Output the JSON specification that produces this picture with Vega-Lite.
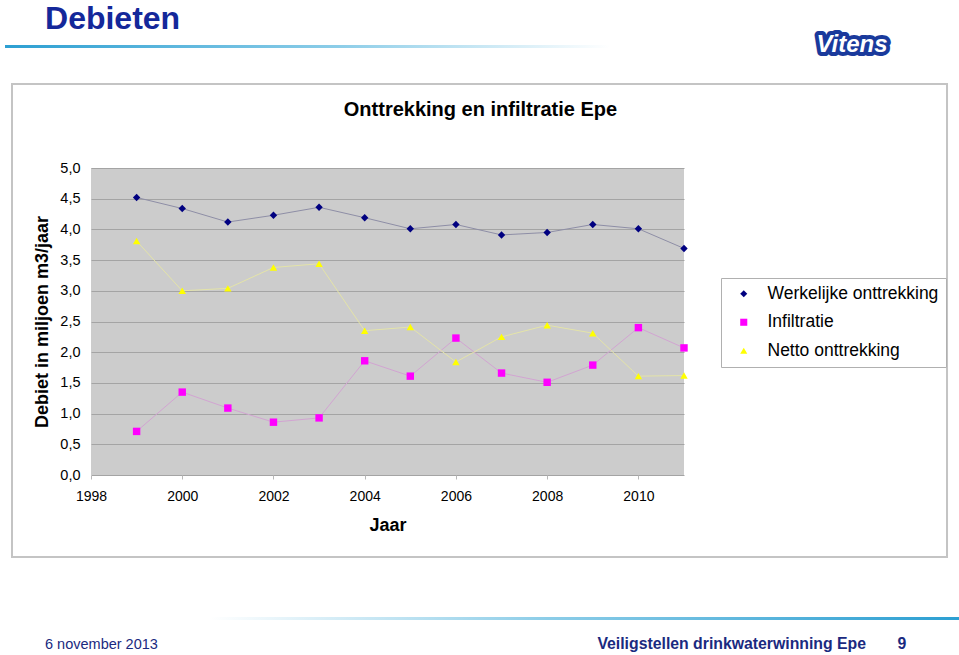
{
  "$schema": "https://vega.github.io/schema/vega-lite/v6.json",
  "width": 593,
  "height": 307,
  "autosize": {"type": "none"},
  "padding": {"left": 91, "top": 168, "right": 275, "bottom": 180},
  "background": "white",
  "title": {
    "text": "Onttrekking en infiltratie Epe",
    "fontSize": 20,
    "fontWeight": "bold",
    "color": "black",
    "anchor": "middle",
    "frame": "group",
    "dx": 93,
    "offset": -117
  },
  "config": {
    "font": "Liberation Sans",
    "view": {"fill": "#cccccc", "stroke": null}
  },
  "datasets": {
    "debiet": [
      {"jaar": 1999, "serie": "Werkelijke onttrekking", "waarde": 4.52},
      {"jaar": 2000, "serie": "Werkelijke onttrekking", "waarde": 4.34},
      {"jaar": 2001, "serie": "Werkelijke onttrekking", "waarde": 4.12},
      {"jaar": 2002, "serie": "Werkelijke onttrekking", "waarde": 4.23},
      {"jaar": 2003, "serie": "Werkelijke onttrekking", "waarde": 4.36},
      {"jaar": 2004, "serie": "Werkelijke onttrekking", "waarde": 4.19},
      {"jaar": 2005, "serie": "Werkelijke onttrekking", "waarde": 4.01},
      {"jaar": 2006, "serie": "Werkelijke onttrekking", "waarde": 4.08},
      {"jaar": 2007, "serie": "Werkelijke onttrekking", "waarde": 3.91},
      {"jaar": 2008, "serie": "Werkelijke onttrekking", "waarde": 3.95},
      {"jaar": 2009, "serie": "Werkelijke onttrekking", "waarde": 4.08},
      {"jaar": 2010, "serie": "Werkelijke onttrekking", "waarde": 4.01},
      {"jaar": 2011, "serie": "Werkelijke onttrekking", "waarde": 3.69},
      {"jaar": 1999, "serie": "Infiltratie", "waarde": 0.71},
      {"jaar": 2000, "serie": "Infiltratie", "waarde": 1.35},
      {"jaar": 2001, "serie": "Infiltratie", "waarde": 1.09},
      {"jaar": 2002, "serie": "Infiltratie", "waarde": 0.86},
      {"jaar": 2003, "serie": "Infiltratie", "waarde": 0.93},
      {"jaar": 2004, "serie": "Infiltratie", "waarde": 1.86},
      {"jaar": 2005, "serie": "Infiltratie", "waarde": 1.61},
      {"jaar": 2006, "serie": "Infiltratie", "waarde": 2.23},
      {"jaar": 2007, "serie": "Infiltratie", "waarde": 1.66},
      {"jaar": 2008, "serie": "Infiltratie", "waarde": 1.51},
      {"jaar": 2009, "serie": "Infiltratie", "waarde": 1.79},
      {"jaar": 2010, "serie": "Infiltratie", "waarde": 2.40},
      {"jaar": 2011, "serie": "Infiltratie", "waarde": 2.07},
      {"jaar": 1999, "serie": "Netto onttrekking", "waarde": 3.81},
      {"jaar": 2000, "serie": "Netto onttrekking", "waarde": 3.00},
      {"jaar": 2001, "serie": "Netto onttrekking", "waarde": 3.04},
      {"jaar": 2002, "serie": "Netto onttrekking", "waarde": 3.38},
      {"jaar": 2003, "serie": "Netto onttrekking", "waarde": 3.44},
      {"jaar": 2004, "serie": "Netto onttrekking", "waarde": 2.35},
      {"jaar": 2005, "serie": "Netto onttrekking", "waarde": 2.41},
      {"jaar": 2006, "serie": "Netto onttrekking", "waarde": 1.84},
      {"jaar": 2007, "serie": "Netto onttrekking", "waarde": 2.25},
      {"jaar": 2008, "serie": "Netto onttrekking", "waarde": 2.44},
      {"jaar": 2009, "serie": "Netto onttrekking", "waarde": 2.31},
      {"jaar": 2010, "serie": "Netto onttrekking", "waarde": 1.61},
      {"jaar": 2011, "serie": "Netto onttrekking", "waarde": 1.62}
    ]
  },
  "layer": [
    {
      "data": {"name": "debiet"},
      "transform": [{"filter": "datum.serie === 'Werkelijke onttrekking'"}],
      "mark": {"type": "line", "strokeWidth": 1, "color": "#8e8ea6"},
      "encoding": {
        "x": {
          "field": "jaar",
          "type": "quantitative",
          "scale": {"domain": [1998, 2011], "nice": false, "zero": false},
          "axis": {
            "title": "Jaar",
            "titleFontSize": 18,
            "titleFontWeight": "bold",
            "titleColor": "black",
            "titlePadding": 13,
            "values": [1998, 2000, 2002, 2004, 2006, 2008, 2010],
            "tickCount": 20,
            "format": "d",
            "labelFontSize": 14,
            "labelColor": "black",
            "labelPadding": 10,
            "labelFlush": false,
            "labelOverlap": false,
            "ticks": true,
            "tickSize": 4,
            "tickColor": "#b8b8b8",
            "domain": false,
            "grid": false
          }
        },
        "y": {
          "field": "waarde",
          "type": "quantitative",
          "scale": {"domain": [0, 5], "nice": false},
          "axis": {
            "title": "Debiet in miljoen m3/jaar",
            "titleFontSize": 18,
            "titleFontWeight": "bold",
            "titleColor": "black",
            "titlePadding": 8,
            "values": [0, 0.5, 1, 1.5, 2, 2.5, 3, 3.5, 4, 4.5, 5],
            "tickCount": 20,
            "labelExpr": "replace(format(datum.value, '.1f'), '.', ',')",
            "labelFontSize": 14.5,
            "labelColor": "black",
            "labelPadding": 11,
            "labelOverlap": false,
            "labelFlush": false,
            "ticks": false,
            "domain": false,
            "grid": true,
            "gridColor": "#a4a4a4",
            "gridOpacity": 1
          }
        }
      }
    },
    {
      "data": {"name": "debiet"},
      "transform": [{"filter": "datum.serie === 'Infiltratie'"}],
      "mark": {"type": "line", "strokeWidth": 1, "color": "#d2a4d2"},
      "encoding": {
        "x": {"field": "jaar", "type": "quantitative"},
        "y": {"field": "waarde", "type": "quantitative"}
      }
    },
    {
      "data": {"name": "debiet"},
      "transform": [{"filter": "datum.serie === 'Netto onttrekking'"}],
      "mark": {"type": "line", "strokeWidth": 1, "color": "#e4e4a8"},
      "encoding": {
        "x": {"field": "jaar", "type": "quantitative"},
        "y": {"field": "waarde", "type": "quantitative"}
      }
    },
    {
      "data": {"name": "debiet"},
      "mark": {"type": "point", "filled": true, "opacity": 1, "strokeWidth": 0, "size": 55},
      "encoding": {
        "x": {"field": "jaar", "type": "quantitative"},
        "y": {"field": "waarde", "type": "quantitative"},
        "fill": {
          "field": "serie",
          "type": "nominal",
          "scale": {
            "domain": ["Werkelijke onttrekking", "Infiltratie", "Netto onttrekking"],
            "range": ["#000080", "#ff00ff", "#ffff00"]
          },
          "legend": {
            "title": null,
            "orient": "none",
            "legendX": 630,
            "legendY": 110,
            "fillColor": "white",
            "strokeColor": "#b0b0b0",
            "padding": 7,
            "labelFontSize": 17.5,
            "labelColor": "black",
            "labelLimit": 400,
            "labelOffset": 15,
            "symbolOffset": 7,
            "rowPadding": 9.5,
            "symbolSize": 50,
            "symbolStrokeWidth": 0,
            "symbolOpacity": 1
          }
        },
        "shape": {
          "field": "serie",
          "type": "nominal",
          "scale": {
            "domain": ["Werkelijke onttrekking", "Infiltratie", "Netto onttrekking"],
            "range": ["diamond", "square", "triangle-up"]
          },
          "legend": {
            "title": null,
            "orient": "none",
            "legendX": 630,
            "legendY": 110,
            "fillColor": "white",
            "strokeColor": "#b0b0b0",
            "padding": 7,
            "labelFontSize": 17.5,
            "labelColor": "black",
            "labelLimit": 400,
            "labelOffset": 15,
            "symbolOffset": 7,
            "rowPadding": 9.5,
            "symbolSize": 50,
            "symbolStrokeWidth": 0,
            "symbolOpacity": 1
          }
        }
      }
    },
    {
      "data": {"values": [{}]},
      "mark": {"type": "rect", "fill": null, "fillOpacity": 0, "stroke": "#c4c4c4", "strokeWidth": 2},
      "encoding": {
        "x": {"datum": 1996.268, "type": "quantitative"},
        "x2": {"datum": 2016.766},
        "y": {"datum": 6.368, "type": "quantitative"},
        "y2": {"datum": -1.336}
      }
    },
    {
      "data": {"values": [{}]},
      "mark": {
        "type": "rect",
        "color": {
          "gradient": "linear",
          "x1": 0, "y1": 0, "x2": 1, "y2": 0,
          "stops": [
            {"offset": 0, "color": "#2c9fd2"},
            {"offset": 0.55, "color": "#8ccde8"},
            {"offset": 1, "color": "#ffffff"}
          ]
        }
      },
      "encoding": {
        "x": {"datum": 1996.115, "type": "quantitative"},
        "x2": {"datum": 2009.378},
        "y": {"datum": 7.003, "type": "quantitative"},
        "y2": {"datum": 6.954}
      }
    },
    {
      "data": {"values": [{}]},
      "mark": {
        "type": "rect",
        "color": {
          "gradient": "linear",
          "x1": 0, "y1": 0, "x2": 1, "y2": 0,
          "stops": [
            {"offset": 0, "color": "#ffffff"},
            {"offset": 0.45, "color": "#8ccde8"},
            {"offset": 1, "color": "#2c9fd2"}
          ]
        }
      },
      "encoding": {
        "x": {"datum": 2000.609, "type": "quantitative"},
        "x2": {"datum": 2017.029},
        "y": {"datum": -2.313, "type": "quantitative"},
        "y2": {"datum": -2.362}
      }
    },
    {
      "data": {"values": [{}]},
      "mark": {"type": "text", "text": "Debieten", "fontSize": 32, "fontWeight": "bold", "color": "#14289a", "align": "left", "baseline": "alphabetic"},
      "encoding": {
        "x": {"datum": 1996.992, "type": "quantitative"},
        "y": {"datum": 7.264, "type": "quantitative"}
      }
    },
    {
      "data": {"values": [{}]},
      "mark": {"type": "text", "text": "Vitens", "fontSize": 24, "fontWeight": "bold", "fontStyle": "italic", "color": "#1a3a9c", "stroke": "#1a3a9c", "strokeWidth": 8, "strokeJoin": "round", "align": "center", "baseline": "alphabetic"},
      "encoding": {
        "x": {"datum": 2014.683, "type": "quantitative"},
        "y": {"datum": 6.889, "type": "quantitative"}
      }
    },
    {
      "data": {"values": [{}]},
      "mark": {"type": "text", "text": "Vitens", "fontSize": 24, "fontWeight": "bold", "fontStyle": "italic", "color": "white", "align": "center", "baseline": "alphabetic"},
      "encoding": {
        "x": {"datum": 2014.683, "type": "quantitative"},
        "y": {"datum": 6.889, "type": "quantitative"}
      }
    },
    {
      "data": {"values": [{}]},
      "mark": {"type": "text", "text": "6 november 2013", "fontSize": 14.5, "color": "#1a2a80", "align": "left", "baseline": "alphabetic"},
      "encoding": {
        "x": {"datum": 1996.992, "type": "quantitative"},
        "y": {"datum": -2.834, "type": "quantitative"}
      }
    },
    {
      "data": {"values": [{}]},
      "mark": {"type": "text", "text": "Veiligstellen drinkwaterwinning Epe", "fontSize": 15.8, "fontWeight": "bold", "color": "#1a2a80", "align": "right", "baseline": "alphabetic"},
      "encoding": {
        "x": {"datum": 2014.99, "type": "quantitative"},
        "y": {"datum": -2.834, "type": "quantitative"}
      }
    },
    {
      "data": {"values": [{}]},
      "mark": {"type": "text", "text": "9", "fontSize": 15.8, "fontWeight": "bold", "color": "#1a2a80", "align": "center", "baseline": "alphabetic"},
      "encoding": {
        "x": {"datum": 2015.779, "type": "quantitative"},
        "y": {"datum": -2.834, "type": "quantitative"}
      }
    }
  ]
}
